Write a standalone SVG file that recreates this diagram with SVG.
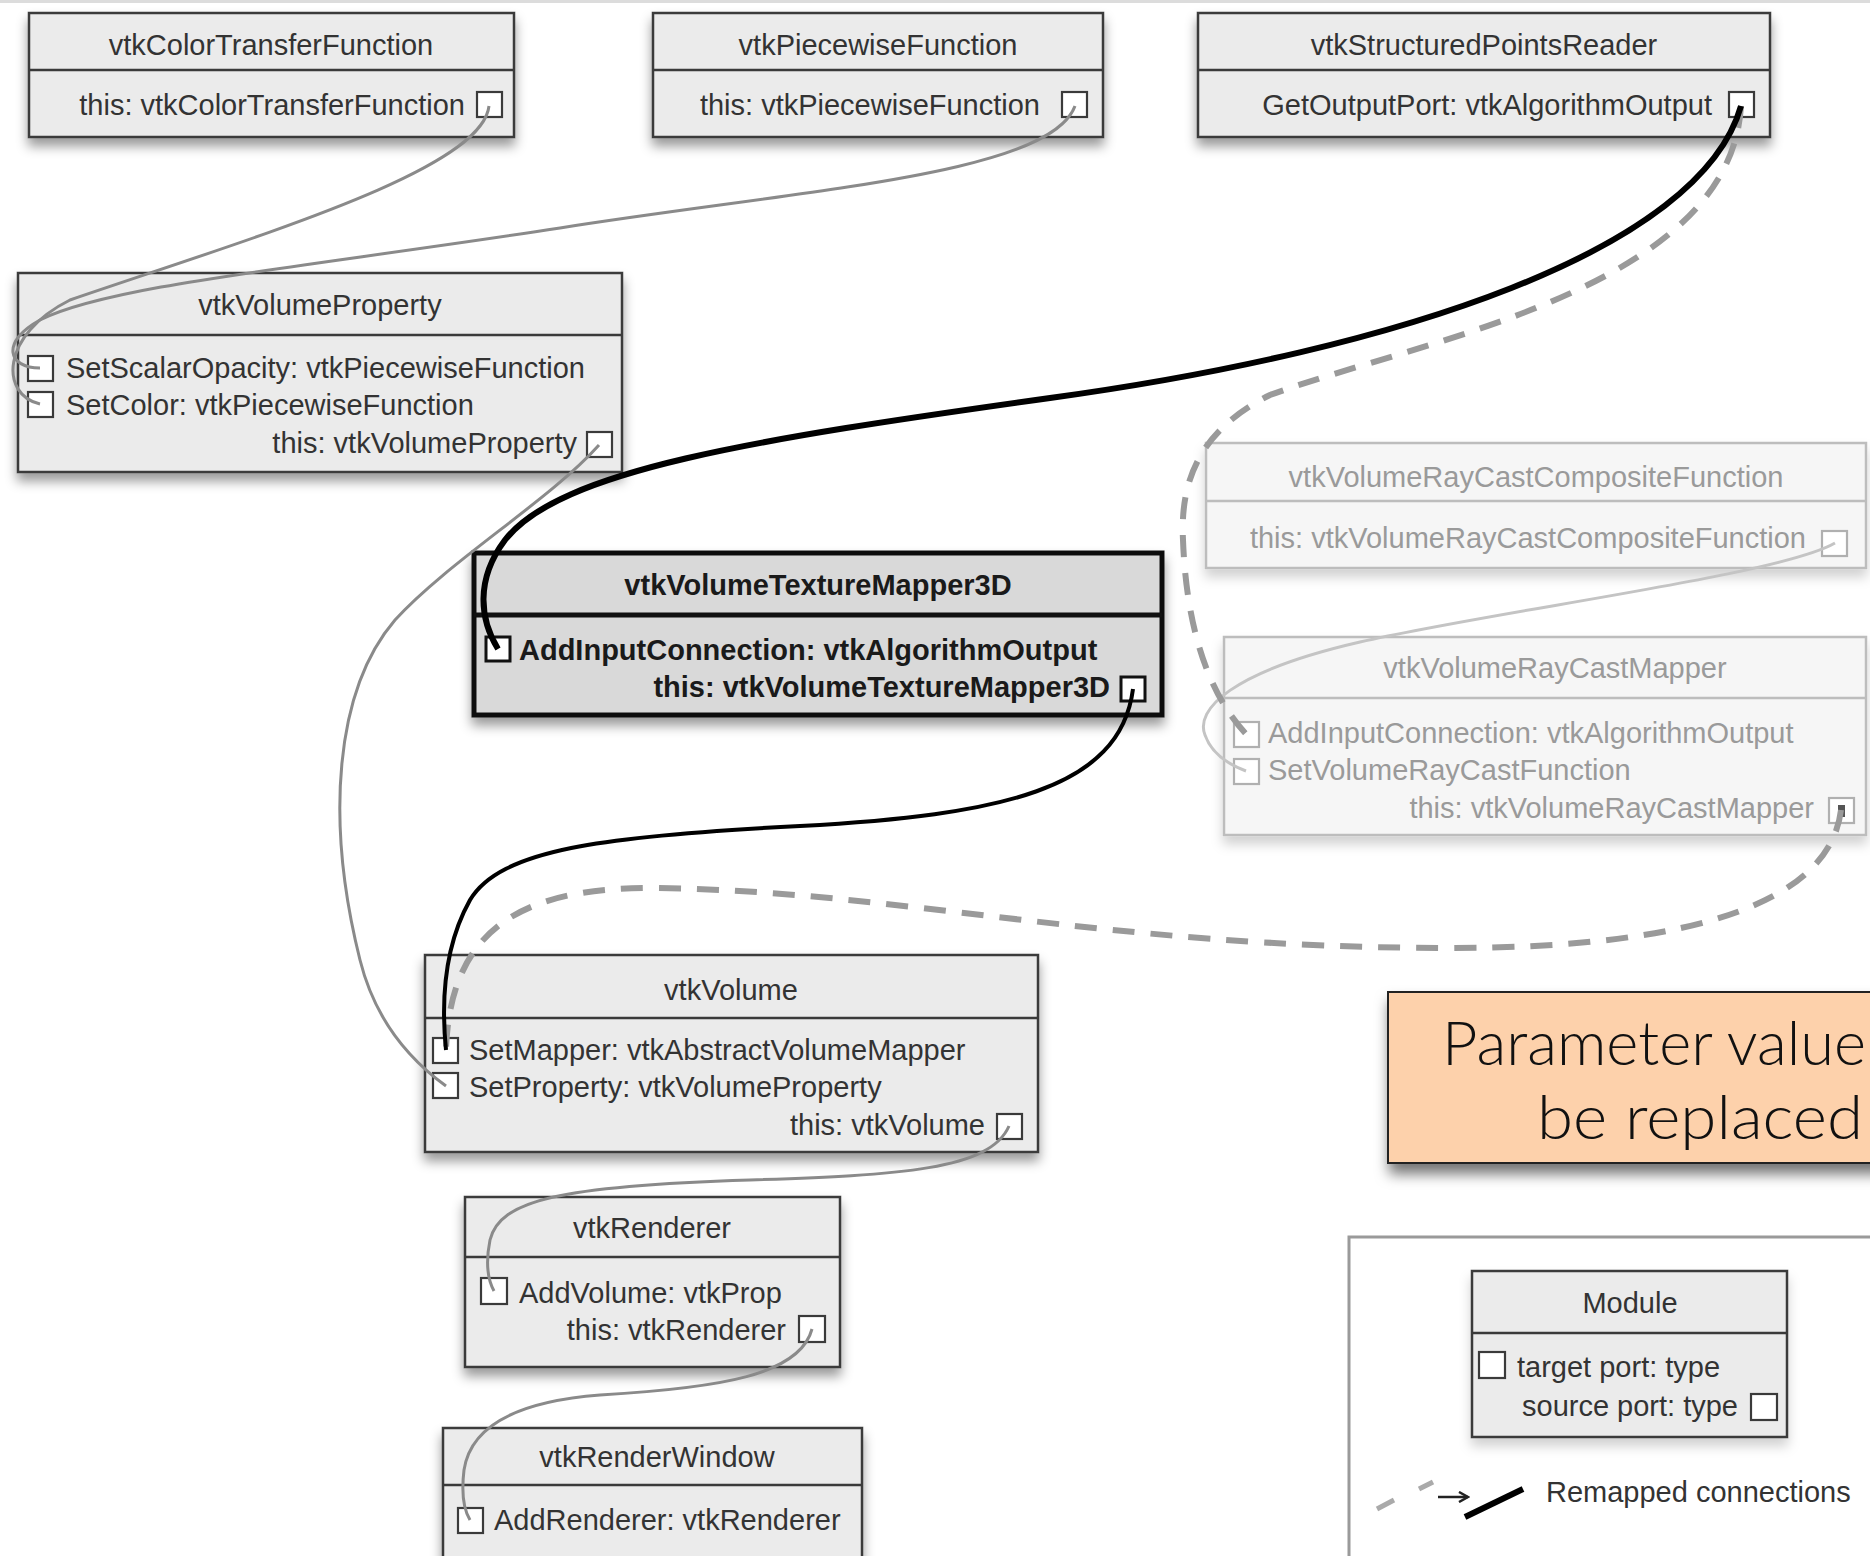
<svg xmlns="http://www.w3.org/2000/svg" width="1870" height="1556" viewBox="0 0 1870 1556">
  <defs>
    <filter id="shadow" x="-10%" y="-20%" width="120%" height="150%">
      <feDropShadow dx="0" dy="8" stdDeviation="6" flood-color="#000" flood-opacity="0.4"/>
    </filter>
    <filter id="shadowSoft" x="-10%" y="-20%" width="120%" height="150%">
      <feDropShadow dx="0" dy="8" stdDeviation="6" flood-color="#000" flood-opacity="0.18"/>
    </filter>
    <filter id="noteShadow" x="-10%" y="-20%" width="130%" height="160%">
      <feDropShadow dx="2" dy="10" stdDeviation="7" flood-color="#000" flood-opacity="0.55"/>
    </filter>
    <marker id="arrow" markerWidth="12" markerHeight="12" refX="10" refY="6" orient="auto" markerUnits="userSpaceOnUse">
      <path d="M1,1 L10,6 L1,11" fill="none" stroke="#222" stroke-width="2.5"/>
    </marker>
  </defs>
  <style>
    text { font-family: "Liberation Sans", Arial, sans-serif; font-size: 29px; fill: #333; }
    .box { fill: #ebebeb; stroke: #3a3a3a; stroke-width: 2.5; }
    .div { stroke: #3a3a3a; stroke-width: 2.5; }
    .port { fill: #fff; stroke: #3a3a3a; stroke-width: 2.2; }
    .title { text-anchor: middle; }
    .end { text-anchor: end; }
    .bold .box { fill: #d9d9d9; stroke: #111; stroke-width: 5; }
    .bold .div { stroke: #111; stroke-width: 5; }
    .bold text { font-weight: bold; fill: #1a1a1a; }
    .bold .port { stroke: #111; stroke-width: 3; }
    .faded .box { fill: #f6f6f6; stroke: #bdbdbd; }
    .faded .div { stroke: #bdbdbd; }
    .faded text { fill: #9a9a9a; }
    .faded .port { stroke: #b0b0b0; }
    .note-text { font-family: Lato, "Liberation Sans", Arial, sans-serif; font-weight: 300; font-size: 62px; fill: #111; }
    .wire { fill: none; stroke: #8a8a8a; stroke-width: 3; }
    .wire-faded { fill: none; stroke: #c4c4c4; stroke-width: 3; }
    .wire-new { fill: none; stroke: #000; }
    .wire-old { fill: none; stroke: #9a9a9a; stroke-width: 6; stroke-dasharray: 22 16; }
  </style>

  <rect x="0" y="0" width="1870" height="1556" fill="#fff"/>
  <rect x="0" y="0" width="1870" height="3" fill="#dcdcdc"/>

  <!-- legend -->
  <g id="legend">
    <rect x="1349" y="1237" width="540" height="340" fill="#fff" stroke="#9a9a9a" stroke-width="3"/>
    <g id="legend-module">
      <rect class="box" x="1472" y="1271" width="315" height="166" filter="url(#shadowSoft)"/>
      <line class="div" x1="1472" y1="1333" x2="1787" y2="1333"/>
      <text class="title" x="1630" y="1313">Module</text>
      <rect class="port" x="1479" y="1352" width="26" height="26"/>
      <text x="1517" y="1377">target port: type</text>
      <text class="end" x="1738" y="1416">source port: type</text>
      <rect class="port" x="1751" y="1394" width="26" height="26"/>
    </g>
    <line x1="1377" y1="1509" x2="1394" y2="1500" stroke="#aaa" stroke-width="5"/>
    <line x1="1419" y1="1489" x2="1433" y2="1482" stroke="#aaa" stroke-width="5"/>
    <line x1="1438" y1="1497" x2="1468" y2="1497" stroke="#222" stroke-width="2.5" marker-end="url(#arrow)"/>
    <line x1="1465" y1="1517" x2="1523" y2="1489" stroke="#000" stroke-width="6"/>
    <text x="1546" y="1502">Remapped connections</text>
  </g>

  <!-- modules -->
  <g id="vtkColorTransferFunction">
    <rect class="box" x="29" y="13" width="485" height="124" filter="url(#shadow)"/>
    <line class="div" x1="29" y1="70" x2="514" y2="70"/>
    <text class="title" x="271" y="55">vtkColorTransferFunction</text>
    <text class="end" x="465" y="115">this: vtkColorTransferFunction</text>
    <rect class="port" x="477" y="92" width="25" height="25"/>
  </g>

  <g id="vtkPiecewiseFunction">
    <rect class="box" x="653" y="13" width="450" height="124" filter="url(#shadow)"/>
    <line class="div" x1="653" y1="70" x2="1103" y2="70"/>
    <text class="title" x="878" y="55">vtkPiecewiseFunction</text>
    <text class="end" x="1040" y="115">this: vtkPiecewiseFunction</text>
    <rect class="port" x="1062" y="92" width="25" height="25"/>
  </g>

  <g id="vtkStructuredPointsReader">
    <rect class="box" x="1198" y="13" width="572" height="124" filter="url(#shadow)"/>
    <line class="div" x1="1198" y1="70" x2="1770" y2="70"/>
    <text class="title" x="1484" y="55">vtkStructuredPointsReader</text>
    <text class="end" x="1712" y="115">GetOutputPort: vtkAlgorithmOutput</text>
    <rect class="port" x="1729" y="92" width="25" height="25"/>
  </g>

  <g id="vtkVolumeProperty">
    <rect class="box" x="18" y="273" width="604" height="199" filter="url(#shadow)"/>
    <line class="div" x1="18" y1="335" x2="622" y2="335"/>
    <text class="title" x="320" y="315">vtkVolumeProperty</text>
    <rect class="port" x="28" y="356" width="25" height="25"/>
    <text x="66" y="378">SetScalarOpacity: vtkPiecewiseFunction</text>
    <rect class="port" x="28" y="392" width="25" height="25"/>
    <text x="66" y="415">SetColor: vtkPiecewiseFunction</text>
    <text class="end" x="577" y="453">this: vtkVolumeProperty</text>
    <rect class="port" x="587" y="432" width="25" height="25"/>
  </g>

  <g id="vtkVolumeTextureMapper3D" class="bold">
    <rect class="box" x="474" y="553" width="688" height="162" filter="url(#shadow)"/>
    <line class="div" x1="474" y1="615" x2="1162" y2="615"/>
    <text class="title" x="818" y="595">vtkVolumeTextureMapper3D</text>
    <rect class="port" x="486" y="637" width="24" height="24"/>
    <text x="519" y="660">AddInputConnection: vtkAlgorithmOutput</text>
    <text class="end" x="1110" y="697">this: vtkVolumeTextureMapper3D</text>
    <rect class="port" x="1121" y="677" width="24" height="24"/>
  </g>

  <g id="vtkVolumeRayCastCompositeFunction" class="faded">
    <rect class="box" x="1206" y="443" width="660" height="125" filter="url(#shadowSoft)"/>
    <line class="div" x1="1206" y1="501" x2="1866" y2="501"/>
    <text class="title" x="1536" y="487">vtkVolumeRayCastCompositeFunction</text>
    <text class="end" x="1806" y="548">this: vtkVolumeRayCastCompositeFunction</text>
    <rect class="port" x="1822" y="531" width="25" height="25"/>
  </g>

  <g id="vtkVolumeRayCastMapper" class="faded">
    <rect class="box" x="1224" y="637" width="642" height="198" filter="url(#shadowSoft)"/>
    <line class="div" x1="1224" y1="698" x2="1866" y2="698"/>
    <text class="title" x="1555" y="678">vtkVolumeRayCastMapper</text>
    <rect class="port" x="1234" y="722" width="25" height="25"/>
    <text x="1268" y="743">AddInputConnection: vtkAlgorithmOutput</text>
    <rect class="port" x="1234" y="759" width="25" height="25"/>
    <text x="1268" y="780">SetVolumeRayCastFunction</text>
    <text class="end" x="1814" y="818">this: vtkVolumeRayCastMapper</text>
    <rect class="port" x="1829" y="798" width="25" height="25"/>
    <rect x="1838" y="805" width="7" height="12" fill="#555"/>
  </g>

  <g id="vtkVolume">
    <rect class="box" x="425" y="955" width="613" height="197" filter="url(#shadow)"/>
    <line class="div" x1="425" y1="1018" x2="1038" y2="1018"/>
    <text class="title" x="731" y="1000">vtkVolume</text>
    <rect class="port" x="433" y="1038" width="25" height="25"/>
    <text x="469" y="1060">SetMapper: vtkAbstractVolumeMapper</text>
    <rect class="port" x="433" y="1073" width="25" height="25"/>
    <text x="469" y="1097">SetProperty: vtkVolumeProperty</text>
    <text class="end" x="985" y="1135">this: vtkVolume</text>
    <rect class="port" x="997" y="1114" width="25" height="25"/>
  </g>

  <g id="vtkRenderer">
    <rect class="box" x="465" y="1197" width="375" height="170" filter="url(#shadow)"/>
    <line class="div" x1="465" y1="1257" x2="840" y2="1257"/>
    <text class="title" x="652" y="1238">vtkRenderer</text>
    <rect class="port" x="481" y="1278" width="26" height="26"/>
    <text x="519" y="1303">AddVolume: vtkProp</text>
    <text class="end" x="786" y="1340">this: vtkRenderer</text>
    <rect class="port" x="799" y="1316" width="26" height="26"/>
  </g>

  <g id="vtkRenderWindow">
    <rect class="box" x="443" y="1428" width="419" height="150" filter="url(#shadow)"/>
    <line class="div" x1="443" y1="1485" x2="862" y2="1485"/>
    <text class="title" x="657" y="1467">vtkRenderWindow</text>
    <rect class="port" x="458" y="1508" width="25" height="25"/>
    <text x="494" y="1530">AddRenderer: vtkRenderer</text>
  </g>

  <!-- note -->
  <g id="note">
    <rect x="1388" y="992" width="520" height="171" fill="#fdd1ab" stroke="#222" stroke-width="2" filter="url(#noteShadow)"/>
    <text class="note-text" x="1442" y="1065" textLength="424" lengthAdjust="spacingAndGlyphs">Parameter value</text>
    <text class="note-text" x="1537" y="1139" textLength="326" lengthAdjust="spacingAndGlyphs">be replaced</text>
  </g>

  <!-- connections -->
  <g id="connections">
    <path class="wire" d="M489,106 C 482,170 260,235 70,300 C 0,335 0,395 40,404"/>
    <path class="wire" d="M1075,106 C 1050,175 800,190 560,228 C 300,268 110,285 40,320 C 0,342 8,368 40,368"/>
    <path class="wire-faded" d="M1835,543 C 1780,575 1500,610 1360,642 C 1230,672 1195,710 1205,735 C 1212,755 1230,765 1246,771"/>
    <path class="wire-old" d="M1741,106 C 1730,290 1420,340 1270,395 C 1200,430 1180,480 1183,540 C 1186,620 1205,690 1246,734"/>
    <path class="wire-old" d="M1841,810 C 1830,900 1700,948 1450,948 C 1100,948 900,890 650,888 C 520,888 450,930 446,1050"/>
    <path class="wire-new" stroke-width="6" d="M1741,106 C 1700,250 1400,350 1050,398 C 750,440 560,470 505,540 C 475,580 480,620 498,649"/>
    <path class="wire" d="M599,445 C 550,500 450,560 395,620 C 335,690 325,820 360,960 C 375,1020 410,1060 446,1086"/>
    <path class="wire-new" stroke-width="4" d="M1133,689 C 1120,790 1000,815 800,826 C 600,836 500,850 470,900 C 442,950 442,1010 446,1050"/>
    <path class="wire" d="M1009,1126 C 990,1170 900,1175 750,1180 C 560,1186 500,1200 490,1240 C 485,1265 488,1280 494,1291"/>
    <path class="wire" d="M812,1329 C 800,1375 720,1388 600,1395 C 510,1402 470,1430 464,1470 C 461,1495 464,1510 470,1520"/>
  </g>
</svg>
